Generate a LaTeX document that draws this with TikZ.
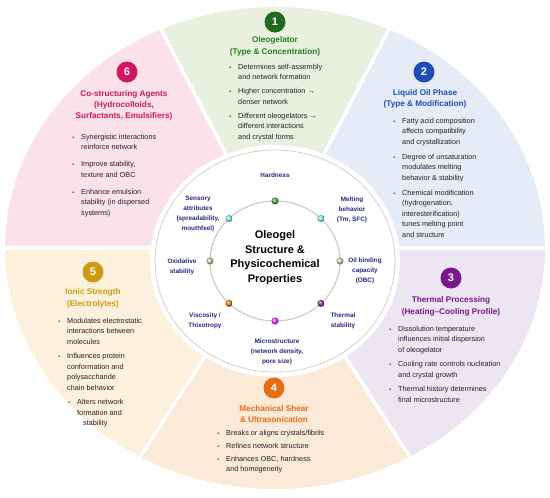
\documentclass[tikz,border=0pt]{standalone}
\usepackage{fontspec}
\setmainfont{Liberation Sans}
\usetikzlibrary{calc}

\definecolor{segA}{RGB}{234,240,224}
\definecolor{segB}{RGB}{229,235,247}
\definecolor{segC}{RGB}{236,230,243}
\definecolor{segD}{RGB}{252,234,217}
\definecolor{segE}{RGB}{253,240,220}
\definecolor{segF}{RGB}{251,226,233}
\definecolor{colA}{RGB}{30,107,30}
\definecolor{colB}{RGB}{31,78,186}
\definecolor{colC}{RGB}{122,22,140}
\definecolor{colD}{RGB}{230,108,22}
\definecolor{colE}{RGB}{205,155,18}
\definecolor{colF}{RGB}{208,22,92}
\definecolor{propcol}{RGB}{40,40,128}
\definecolor{bodycol}{RGB}{34,34,34}
\definecolor{dotgreen}{RGB}{90,180,70}

\tikzset{
	badge/.style={circle, fill=#1, text=white, font=\bfseries\fontsize{11}{11}\selectfont, minimum size=21pt, inner sep=0pt},
	head/.style={align=center, text=#1, font=\bfseries\fontsize{8.2}{11.3}\selectfont, inner sep=0pt},
	body/.style={align=left, anchor=north west, text=bodycol, font=\fontsize{7.3}{10.5}\selectfont, inner sep=0pt},
	prop/.style={align=center, text=propcol, font=\bfseries\fontsize{6.4}{10}\selectfont, inner sep=0pt},
	pdot/.style={circle, ball color=#1, minimum size=7pt, inner sep=0pt},
}
\newcommand{\bl}{\llap{\scalebox{0.75}{\textbullet}\hspace{7pt}}}

\begin{document}
\begin{tikzpicture}[x=1pt, y=1pt]
	\useasboundingbox (0,0) rectangle (550,-498);
	\coordinate (o) at (275,-248);
	\coordinate (m) at (275,-261);
	\foreach \a/\b/\c in {65/115/segA, 0/65/segB, -60/0/segC, -120/-60/segD, 180/240/segE, 115/180/segF}
		\fill[\c] (o) -- ++(\a:270 and 241) arc[start angle=\a, end angle=\b, x radius=270, y radius=241] -- cycle;
	\foreach \a in {0,65,115,180,240,300}
		\draw[white, line width=3.5] (o) -- ++(\a:275 and 246);
	
	\fill[white] (m) ellipse [x radius=125, y radius=116];
	\draw[black!18, fill=white, line width=0.8] (m) ellipse [x radius=120, y radius=111];
	\draw[black!20, line width=1.2] (m) ellipse [x radius=65, y radius=60];
	
	\foreach \a/\c/\n in {90/dotgreen/hard, 45/cyan!45/melt, 0/brown!35/obc, -45/violet!80/therm,
		-90/magenta!80/micro, -135/orange/visc, 180/brown!40/oxid, 135/cyan!45/sens}
		\node[pdot=\c] (\n) at ($(m)+(\a:65 and 60)$) {};
	
	\node(title) at (275,-257.5) [align=center, font=\bfseries\fontsize{11}{14.5}\selectfont] {Oleogel\\Structure \&\\Physicochemical\\Properties};
	
	\node(lhard) at (275,-175) [prop] {Hardness};
	\node(lmelt) at (352,-210) [prop] {Melting\\behavior\\(Tm, SFC)};
	\node(lobc) at (365,-271) [prop] {Oil binding\\capacity\\(OBC)};
	\node(ltherm) at (343,-321) [prop] {Thermal\\stability};
	\node(lmicro) at (277,-352) [prop] {Microstructure\\(network density,\\pore size)};
	\node(lvisc) at (205,-321) [prop] {Viscosity /\\Thixotropy};
	\node(loxid) at (182,-267) [prop] {Oxidative\\stability};
	\node(lsens) at (198,-214) [prop] {Sensory\\attributes\\(spreadability,\\mouthfeel)};
	
	% 1 oleogelator
	\node(b1) at (275,-22) [badge=colA] {1};
	\node(h1) at (275,-46.5) [head=colA!85!green] {Oleogelator\\(Type \& Concentration)};
	\node(t1) at (238,-64) [body] {\bl Determines self-assembly\\and network formation\\[3.5pt]
		\bl Higher concentration →\\denser network\\[3.5pt]
		\bl Different oleogelators →\\different interactions\\and crystal forms};
	
	% 2 liquid oil
	\node(b2) at (424,-72) [badge=colB] {2};
	\node(h2) at (425,-99) [head=colB] {Liquid Oil Phase\\(Type \& Modification)};
	\node(t2) at (402,-118) [body] {\bl Fatty acid composition\\affects compatibility\\and crystallization\\[4.5pt]
		\bl Degree of unsaturation\\modulates melting\\behavior \& stability\\[4.5pt]
		\bl Chemical modification\\(hydrogenation,\\interesterification)\\tunes melting point\\and structure};
	
	% 3 thermal
	\node(b3) at (451,-278) [badge=colC] {3};
	\node(h3) at (451,-306.5) [head=colC] {Thermal Processing\\(Heating–Cooling Profile)};
	\node(t3) at (398,-326) [body] {\bl Dissolution temperature\\influences initial dispersion\\of oleogelator\\[4pt]
		\bl Cooling rate controls nucleation\\and crystal growth\\[4pt]
		\bl Thermal history determines\\final microstructure};
	
	% 4 shear
	\node(b4) at (274,-388) [badge=colD] {4};
	\node(h4) at (274,-414) [head=colD] {Mechanical Shear\\\& Ultrasonication};
	\node(t4) at (226,-430) [body] {\bl Breaks or aligns crystals/fibrils\\[2.5pt]
		\bl Refines network structure\\[2.5pt]
		\bl Enhances OBC, hardness\\and homogeneity};
	
	% 5 ionic
	\node(b5) at (93,-272) [badge=colE] {5};
	\node(h5) at (93,-298.5) [head=colE] {Ionic Strength\\(Electrolytes)};
	\node(t5) at (67,-318) [body] {\bl Modulates electrostatic\\interactions between\\molecules\\[4pt]
		\bl Influences protein\\conformation and\\polysaccharide\\chain behavior\\[4pt]
		\hspace*{10pt}\bl Alters network\\\hspace*{10pt}formation and\\\hspace*{16pt}stability};
	
	% 6 co-structuring
	\node(b6) at (127,-72) [badge=colF] {6};
	\node(h6) at (124,-105.5) [head=colF] {Co-structuring Agents\\(Hydrocolloids,\\Surfactants, Emulsifiers)};
	\node(t6) at (81,-134) [body] {\bl Synergistic interactions\\reinforce network\\[6.5pt]
		\bl Improve stability,\\texture and OBC\\[6.5pt]
		\bl Enhance emulsion\\stability (in dispersed\\systems)};
\end{tikzpicture}
\end{document}
